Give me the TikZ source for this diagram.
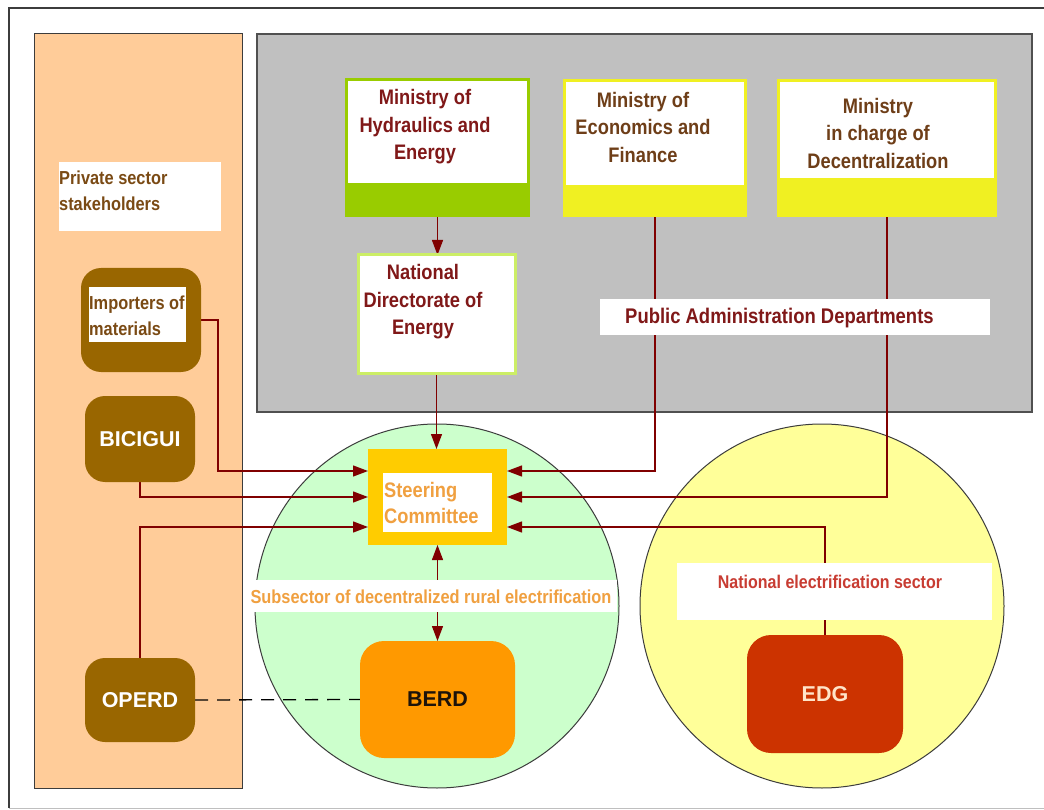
\documentclass[tikz,border=0pt]{standalone}
\usepackage{fontspec}
\setmainfont{Liberation Sans}
\newfontfamily\narrowf[FakeStretch=0.87]{Liberation Sans}
\usetikzlibrary{arrows.meta,fit}
\pgfdeclarelayer{back}
\pgfdeclarelayer{mid}
\pgfsetlayers{back,mid,main}
\definecolor{peach}{RGB}{255,204,153}
\definecolor{panelgray}{RGB}{192,192,192}
\definecolor{brownbox}{RGB}{153,102,0}
\definecolor{mgreen}{RGB}{153,204,0}
\definecolor{mgreenline}{RGB}{204,238,102}
\definecolor{myellow}{RGB}{240,240,34}
\definecolor{maroontxt}{RGB}{128,24,24}
\definecolor{browntxt}{RGB}{110,62,24}
\definecolor{privtxt}{RGB}{122,74,20}
\definecolor{arrowc}{RGB}{128,0,0}
\definecolor{steerc}{RGB}{255,204,0}
\definecolor{steertxt}{RGB}{240,160,64}
\definecolor{lgreen}{RGB}{204,255,204}
\definecolor{lyellow}{RGB}{255,255,153}
\definecolor{berdc}{RGB}{255,153,0}
\definecolor{edgc}{RGB}{204,51,0}
\definecolor{nattxt}{RGB}{200,60,50}
\definecolor{edgtxt}{RGB}{255,228,200}
\definecolor{framec}{RGB}{60,60,60}
\begin{document}
\begin{tikzpicture}[x=1pt,y=-1pt,
  rect/.style={inner sep=0pt,outer sep=0pt},
  brbox/.style={rect,fill=brownbox,rounded corners=20pt},
  bigw/.style={font=\bfseries\fontsize{21.5}{24}\selectfont},
  mtxt/.style={font=\narrowf\bfseries\fontsize{21}{27.5}\selectfont,align=center},
  conn/.style={draw=arrowc,line width=1.3pt,-{Triangle[length=15pt,width=11pt]}},
  conn2/.style={draw=arrowc,line width=1.3pt,{Triangle[length=15pt,width=11pt]}-{Triangle[length=15pt,width=11pt]}},
  sector/.style={circle,inner sep=0pt,minimum size=364pt,draw=framec,line width=1pt}
]
\useasboundingbox (0,0) rectangle (1044,810);
\begin{pgfonlayer}{back}
  \fill[white] (0,0) rectangle (1044,810);
  \draw[black!25,line width=1pt] (9,808) -- (1044,808);
  \draw[framec,line width=1.2pt] (1044,8) -- (9,8) -- (9,808);
  \node[rect,fit={(34,34) (242,788)},fill=peach,draw=framec,line width=1pt] (priv) {};
  \node[rect,fit={(257,34) (1032,412)},fill=panelgray,draw=framec!90,line width=1.5pt] (pad) {};
  \node[sector,fill=lgreen] (gc) at (437,606) {};
  \node[sector,fill=lyellow] (yc) at (822,606) {};
\end{pgfonlayer}

% private sector
\node[rect,fit={(59,162) (221,231)},fill=white] (privlab) {};
\node[font=\narrowf\bfseries\fontsize{18.8}{26}\selectfont,text=privtxt,align=left,anchor=west,inner sep=0pt] (privtext) at (59,191) {Private sector\\stakeholders};

\node[brbox,fit={(81,268) (201,372)}] (imp) {};
\node[rect,fit={(89,287) (186,342)},fill=white] (implab) {};
\node[font=\narrowf\bfseries\fontsize{18.8}{26}\selectfont,text=privtxt,align=left,anchor=west,inner sep=0pt] (imptext) at (89,316) {Importers of\\materials};

\node[brbox,fit={(85,396) (195,482)}] (bic) {};
\node[bigw,text=white] at (bic.center) {BICIGUI};
\node[brbox,fit={(85,658) (195,742)}] (operd) {};
\node[bigw,text=white] at (operd.center) {OPERD};

% ministries
\node[rect,fit={(345,78) (530,217)},fill=mgreen] (mhe) {};
\fill[white] (348,81) rectangle (527,183);
\node[mtxt,text=maroontxt] (mhetext) at (425,127) {Ministry of\\Hydraulics and\\Energy};

\node[rect,fit={(563,79) (747,217)},fill=myellow] (mef) {};
\fill[white] (566,82) rectangle (744,185);
\node[mtxt,text=browntxt] (meftext) at (643,127) {Ministry of\\Economics and\\Finance};

\node[rect,fit={(777,79) (997,217)},fill=myellow] (mdec) {};
\fill[white] (780,82) rectangle (994,178);
\node[mtxt,text=browntxt] (mdectext) at (878,133) {Ministry\\in charge of\\Decentralization};

\node[rect,fit={(358,255) (515,373)},fill=white,draw=mgreenline,line width=3pt] (nde) {};
\node[mtxt,text=maroontxt] (ndetext) at (423,302) {National\\Directorate of\\Energy};

\node[rect,fit={(600,299) (990,335)},fill=white] (pal) {};
\node[font=\narrowf\bfseries\fontsize{21.2}{24}\selectfont,text=maroontxt,anchor=west,inner sep=0pt] (paltext) at (625,318) {Public Administration Departments};

% steering committee
\node[rect,fit={(368,449) (507,545)},fill=steerc] (sc) {};
\node[rect,fit={(383,473) (492,532)},fill=white] (scin) {};
\node[font=\narrowf\bfseries\fontsize{21}{26}\selectfont,text=steertxt,align=left,anchor=west,inner sep=0pt] (sctext) at (384,503) {Steering\\Committee};

% subsector label
\node[rect,fit={(247,580) (617,612)},fill=white] (subl) {};
\node[font=\narrowf\bfseries\fontsize{18.8}{20}\selectfont,text=steertxt,inner sep=0pt] (subtext) at (431,597) {Subsector of decentralized rural electrification};

% national label
\node[rect,fit={(677,563) (992,620)},fill=white] (natl) {};
\node[font=\narrowf\bfseries\fontsize{18.4}{20}\selectfont,text=nattxt,inner sep=0pt] (nattext) at (830,582) {National electrification sector};

\node[rect,fit={(360,641) (515,758)},fill=berdc,rounded corners=24pt] (berd) {};
\node[bigw,text=black!85!brown] at (berd.center) {BERD};
\node[rect,fit={(747,635) (903,753)},fill=edgc,rounded corners=24pt] (edg) {};
\node[bigw,text=edgtxt] at (edg.center) {EDG};

\begin{pgfonlayer}{mid}
  \draw[conn] (mhe.south) -- (mhe.south |- nde.north);
  \draw[conn] (nde.south) -- (nde.south |- sc.north);
  \draw[conn] (mef.south) |- ([yshift=26pt]sc.east);
  \draw[conn] (mdec.south) |- (sc.east);
  \draw[conn] (edg.north) |- ([yshift=-30pt]sc.east);
  \draw[conn] (imp.east) -- ++(17,0) |- ([yshift=26pt]sc.west);
  \draw[conn] (bic.south) |- (sc.west);
  \draw[conn] (operd.north) |- ([yshift=-30pt]sc.west);
  \draw[conn2] (sc.south) -- (berd.north);
  \draw[black,line width=1.3pt,dash pattern=on 13pt off 9pt] (operd.east) -- (berd.west);
\end{pgfonlayer}
\end{tikzpicture}
\end{document}
